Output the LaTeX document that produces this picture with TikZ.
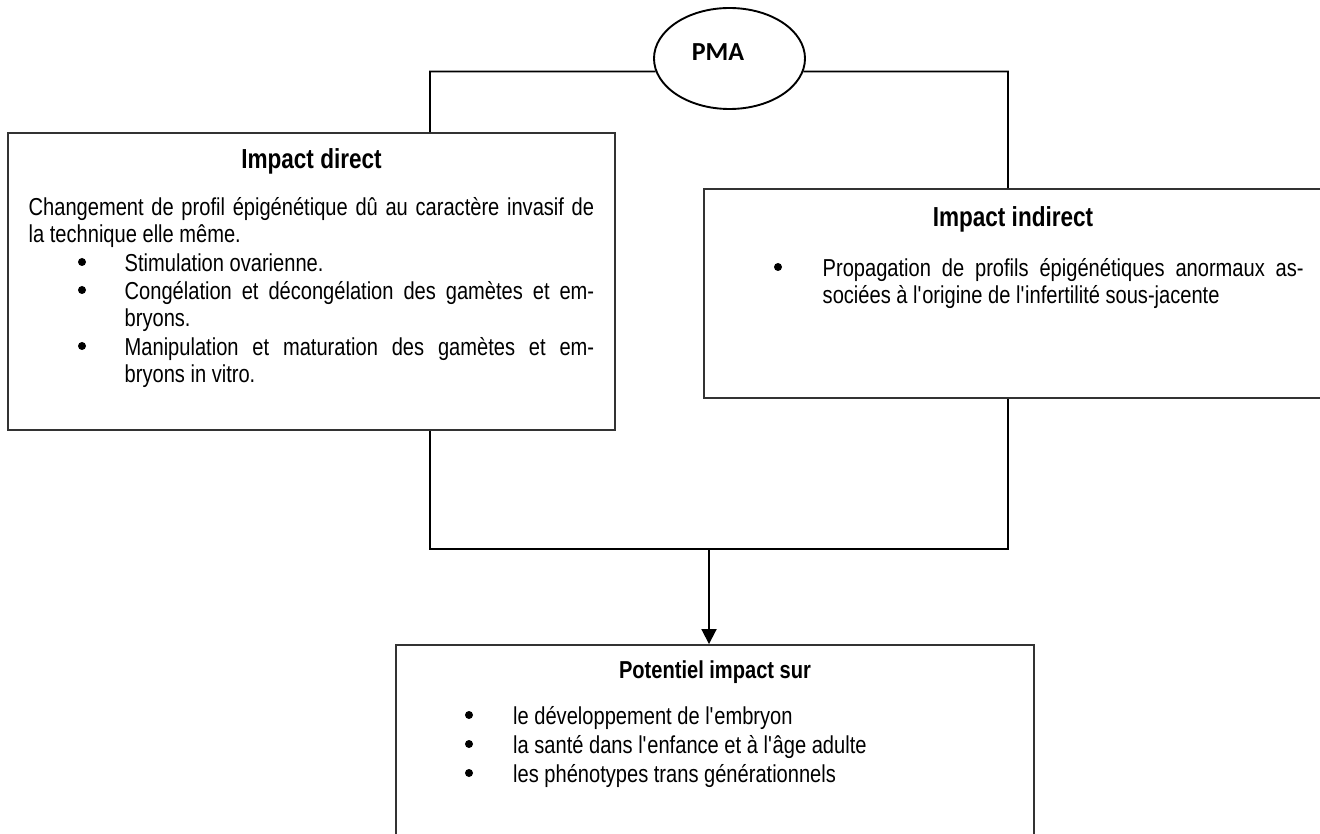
\documentclass[tikz,border=0pt]{standalone}
\usepackage{fontspec}
\setmainfont{Liberation Sans}[FakeStretch=0.82]
\newfontfamily\pmafont{Carlito}
\usetikzlibrary{arrows.meta,shapes.geometric}
\newcommand{\apos}{\textquotesingle}
\begin{document}
\begin{tikzpicture}[x=1pt,y=-1pt,
  box/.style={draw=black!80,line width=1.9pt,inner sep=0pt,rectangle},
  conn/.style={draw=black,line width=1.9pt},
  arrowconn/.style={conn,-{Triangle[width=15pt,length=15pt]}},
  titletext/.style={font=\fontsize{27.5}{33}\selectfont\bfseries,inner sep=0pt,anchor=mid,yshift=-7pt},
  subtitletext/.style={font=\fontsize{24.5}{29}\selectfont\bfseries,inner sep=0pt,anchor=mid,yshift=-7pt},
  bodytext/.style={font=\fontsize{24.5}{28}\selectfont,inner sep=0pt,anchor=mid west,yshift=-7pt},
  dot/.style={circle,fill=black,inner sep=0pt,minimum size=8pt}]
\useasboundingbox (0,0) rectangle (1320,834);
\fill[white] (0,0) rectangle (1320,834);

% PMA ellipse
\node[ellipse,draw=black,line width=1.9pt,minimum width=151pt,minimum height=101pt,inner sep=0pt] (pma) at (729.5,58.5) {};
\node[inner sep=0pt,font=\pmafont\bfseries\fontsize{26}{30}\selectfont,anchor=mid] (pmatext) at (718,58) {PMA};

% boxes
\node[box,minimum width=607pt,minimum height=297pt] (left) at (311.5,281.5) {};
\node[box,minimum width=618pt,minimum height=209pt] (right) at (1013,293.5) {};
\node[box,minimum width=638pt,minimum height=195pt] (bottom) at (715,742.5) {};

% left box text
\node[titletext] (ltitle) at (311.5,159) {Impact direct};
\node[bodytext] (l1) at (28.5,206) {\hbox to 565.5pt{Changement de profil épigénétique dû au caractère invasif de}};
\node[bodytext] (l2) at (28.5,233) {la technique elle même.};
\node[dot] (lb1) at (82,262) {};
\node[bodytext] (l3) at (124.5,262) {Stimulation ovarienne.};
\node[dot] (lb2) at (82,290) {};
\node[bodytext] (l4) at (124.5,290) {\hbox to 469.5pt{Congélation et décongélation des gamètes et em-}};
\node[bodytext] (l5) at (124.5,317) {bryons.};
\node[dot] (lb3) at (82,346) {};
\node[bodytext] (l6) at (124.5,346) {\hbox to 469.5pt{Manipulation et maturation des gamètes et em-}};
\node[bodytext] (l7) at (124.5,373) {bryons in vitro.};

% right box text
\node[titletext] (rtitle) at (1013,217) {Impact indirect};
\node[dot] (rb1) at (778,267) {};
\node[bodytext] (r1) at (822.5,267) {\hbox to 481pt{Propagation de profils épigénétiques anormaux as-}};
\node[bodytext] (r2) at (822.5,294) {sociées à l\apos origine de l\apos infertilité sous-jacente};

% bottom box text
\node[subtitletext] (btitle) at (715,669) {Potentiel impact sur};
\node[dot] (bb1) at (469,715) {};
\node[bodytext] (b1) at (513,715) {le développement de l\apos embryon};
\node[dot] (bb2) at (469,744) {};
\node[bodytext] (b2) at (513,744) {la santé dans l\apos enfance et à l\apos âge adulte};
\node[dot] (bb3) at (469,773) {};
\node[bodytext] (b3) at (513,773) {les phénotypes trans générationnels};

% connectors
\coordinate (jl) at (430,71.5);
\coordinate (jr) at (1008,71.5);
\coordinate (bus) at (709,549);
\draw[conn] (pma.190) -- (jl) -- (jl |- left.north);
\draw[conn] (pma.350) -- (jr) -- (jr |- right.north);
\draw[conn] (left.south -| jl) |- (bus);
\draw[conn] (right.south -| jr) |- (bus);
\draw[arrowconn] (bus) -- (bus |- bottom.north);
\end{tikzpicture}
\end{document}
